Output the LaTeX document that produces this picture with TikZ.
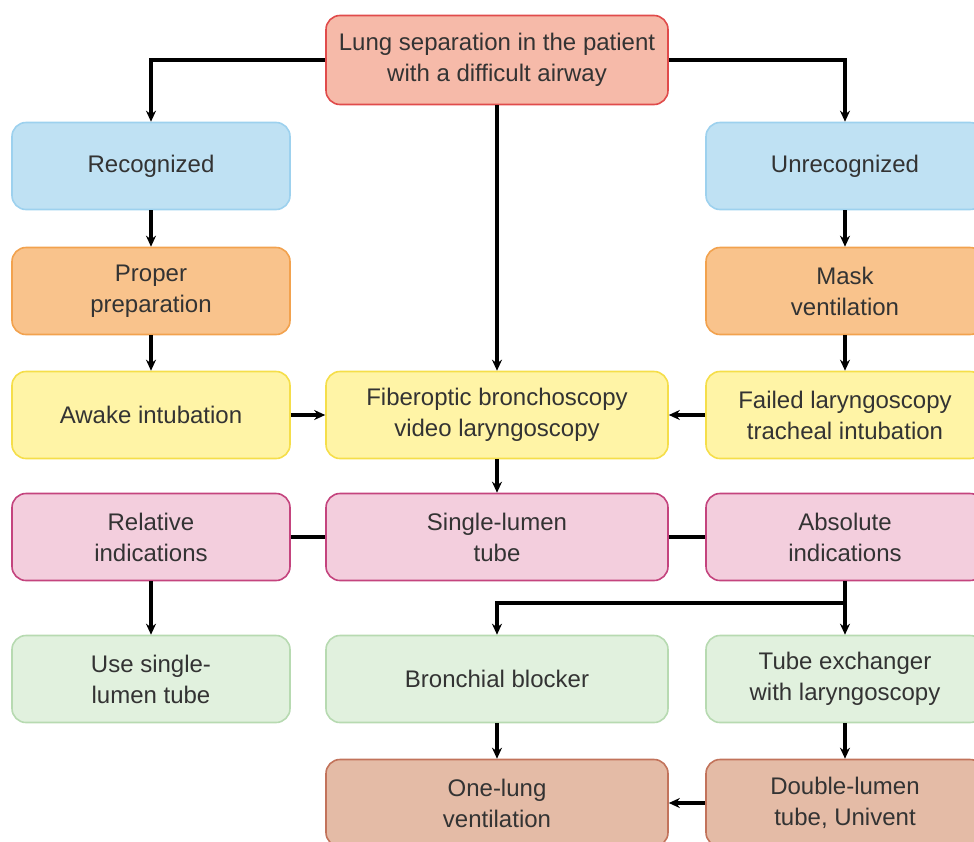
\documentclass[tikz,border=0pt]{standalone}
\usepackage{fontspec}
\setmainfont{Liberation Sans}
\usetikzlibrary{arrows.meta}
\definecolor{topfill}{HTML}{F6BAA9}\definecolor{topline}{HTML}{E04B4B}
\definecolor{blufill}{HTML}{BFE1F3}\definecolor{bluline}{HTML}{9DD1EE}
\definecolor{orafill}{HTML}{F9C38C}\definecolor{oraline}{HTML}{F2A24E}
\definecolor{yelfill}{HTML}{FFF4A6}\definecolor{yelline}{HTML}{F5DE4A}
\definecolor{pnkfill}{HTML}{F3CEDD}\definecolor{pnkline}{HTML}{C4447E}
\definecolor{grnfill}{HTML}{E1F1DE}\definecolor{grnline}{HTML}{B7DAB1}
\definecolor{brnfill}{HTML}{E4BBA6}\definecolor{brnline}{HTML}{C2735B}
\begin{document}
\begin{tikzpicture}[x=1pt, y=-1pt, >={Stealth[length=11pt,width=10pt]},
	box/.style={draw, line width=1.6pt, rounded corners=14pt, align=center, inner sep=0pt,
		text=black!80, font=\fontsize{24}{31}\selectfont},
	side/.style={box, minimum width=278pt, minimum height=87pt},
	mid/.style={box, minimum width=342pt, minimum height=87pt},
	tone/.style={fill=#1fill, draw=#1line},
	arr/.style={->, line width=3.2pt},
	link/.style={line width=3.2pt}]
	\useasboundingbox (0,0) rectangle (974,841);
	\clip (0,0) rectangle (974,841);
	\node[mid, tone=top, minimum height=89pt] (lung) at (497,60) {Lung separation in the patient\\with a difficult airway};
	\node[side, tone=blu] (rec) at (151,166) {Recognized};
	\node[side, tone=blu] (unrec) at (845,166) {Unrecognized};
	\node[side, tone=ora] (prep) at (151,291) {Proper\\preparation};
	\node[side, tone=ora] (mask) at (845,291) {Mask\\ventilation};
	\node[side, tone=yel] (awake) at (151,415) {Awake intubation};
	\node[mid, tone=yel] (fob) at (497,415) {Fiberoptic bronchoscopy\\video laryngoscopy};
	\node[side, tone=yel] (fail) at (845,415) {Failed laryngoscopy\\tracheal intubation};
	\node[side, tone=pnk] (rel) at (151,537) {Relative\\indications};
	\node[mid, tone=pnk] (slt) at (497,537) {Single-lumen\\tube};
	\node[side, tone=pnk] (abs) at (845,537) {Absolute\\indications};
	\node[side, tone=grn] (use) at (151,679) {Use single-\\lumen tube};
	\node[mid, tone=grn] (bb) at (497,679) {Bronchial blocker};
	\node[side, tone=grn] (tex) at (845,679) {Tube exchanger\\with laryngoscopy};
	\node[mid, tone=brn] (olv) at (497,803) {One-lung\\ventilation};
	\node[side, tone=brn] (dlt) at (845,803) {Double-lumen\\tube, Univent};
	% arrows
	\draw[arr] (lung.west) -| (rec.north);
	\draw[arr] (lung.east) -| (unrec.north);
	\draw[arr] (lung) -- (fob);
	\foreach \a/\b in {rec/prep, prep/awake, unrec/mask, mask/fail, fob/slt, rel/use, bb/olv, tex/dlt, awake/fob, fail/fob, abs/tex, dlt/olv}
		{\draw[arr] (\a) -- (\b);}
	\draw[link] (rel) -- (slt) (slt) -- (abs);
	\coordinate (fork) at (845,603); % branch to blocker
	\draw[arr] (fork) -| (bb.north);
\end{tikzpicture}
\end{document}
